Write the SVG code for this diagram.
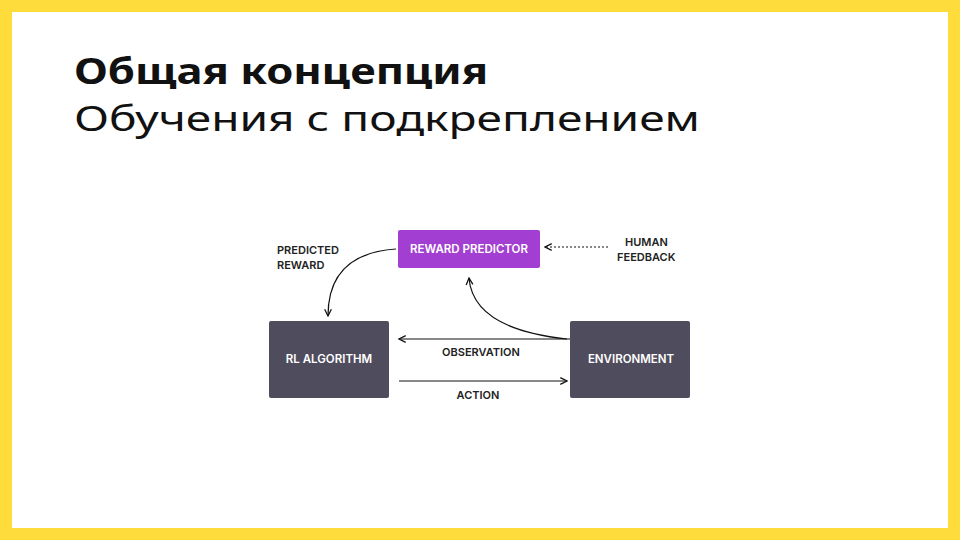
<svg xmlns="http://www.w3.org/2000/svg" width="960" height="540" viewBox="0 0 960 540">
<defs>
<style>
.lbl{font-family:"Inter","Liberation Sans",sans-serif;font-size:11px;font-weight:600;fill:#222}
.box{font-family:"Inter","Liberation Sans",sans-serif;font-size:11.5px;font-weight:600;fill:#fff}
.ln{fill:none;stroke:#111;stroke-width:1.2}
</style>
<marker id="ah" viewBox="0 0 10 10" refX="9" refY="5" markerWidth="7" markerHeight="7" orient="auto-start-reverse"><path d="M1,1 L9,5 L1,9" fill="none" stroke="#111" stroke-width="1.5"/></marker>
</defs>
<rect width="960" height="540" fill="#fddc3b"/>
<rect x="12" y="12" width="936" height="516" fill="#fff"/>
<text x="74" y="84" font-family="'Noto Sans','Liberation Sans',sans-serif" font-size="35" font-weight="700" fill="#111" textLength="414" lengthAdjust="spacingAndGlyphs">Общая концепция</text>
<text x="74" y="131" font-family="'Noto Sans','Liberation Sans',sans-serif" font-size="35" fill="#111" textLength="626" lengthAdjust="spacingAndGlyphs">Обучения с подкреплением</text>
<g id="connectors">
<path class="ln" d="M396,249 C350,252 328,275 328,316" marker-end="url(#ah)"/>
<path class="ln" d="M567,339 C510,333 472,315 469,278" marker-end="url(#ah)"/>
<path class="ln" d="M570,339 L399,339" marker-end="url(#ah)"/>
<path class="ln" d="M399,381 L567,381" marker-end="url(#ah)"/>
<path class="ln" d="M608,247 L545,247" stroke-dasharray="2,2" marker-end="url(#ah)"/>
</g>
<g id="reward-predictor"><rect x="398" y="230" width="142" height="38" rx="2" fill="#a23fd2"/><text class="box" x="469" y="253" text-anchor="middle">REWARD PREDICTOR</text></g>
<g id="rl-algorithm"><rect x="269" y="321" width="120" height="77" rx="2" fill="#4f4c5d"/><text class="box" x="329" y="363" text-anchor="middle">RL ALGORITHM</text></g>
<g id="environment"><rect x="570" y="321" width="120" height="77" rx="2" fill="#4f4c5d"/><text class="box" x="631" y="363" text-anchor="middle">ENVIRONMENT</text></g>
<g id="labels">
<text class="lbl" x="277" y="254">PREDICTED</text><text class="lbl" x="277" y="269">REWARD</text>
<text class="lbl" x="625" y="246">HUMAN</text><text class="lbl" x="617" y="261">FEEDBACK</text>
<text class="lbl" x="481" y="356" text-anchor="middle">OBSERVATION</text>
<text class="lbl" x="478" y="399" text-anchor="middle">ACTION</text>
</g>
</svg>
